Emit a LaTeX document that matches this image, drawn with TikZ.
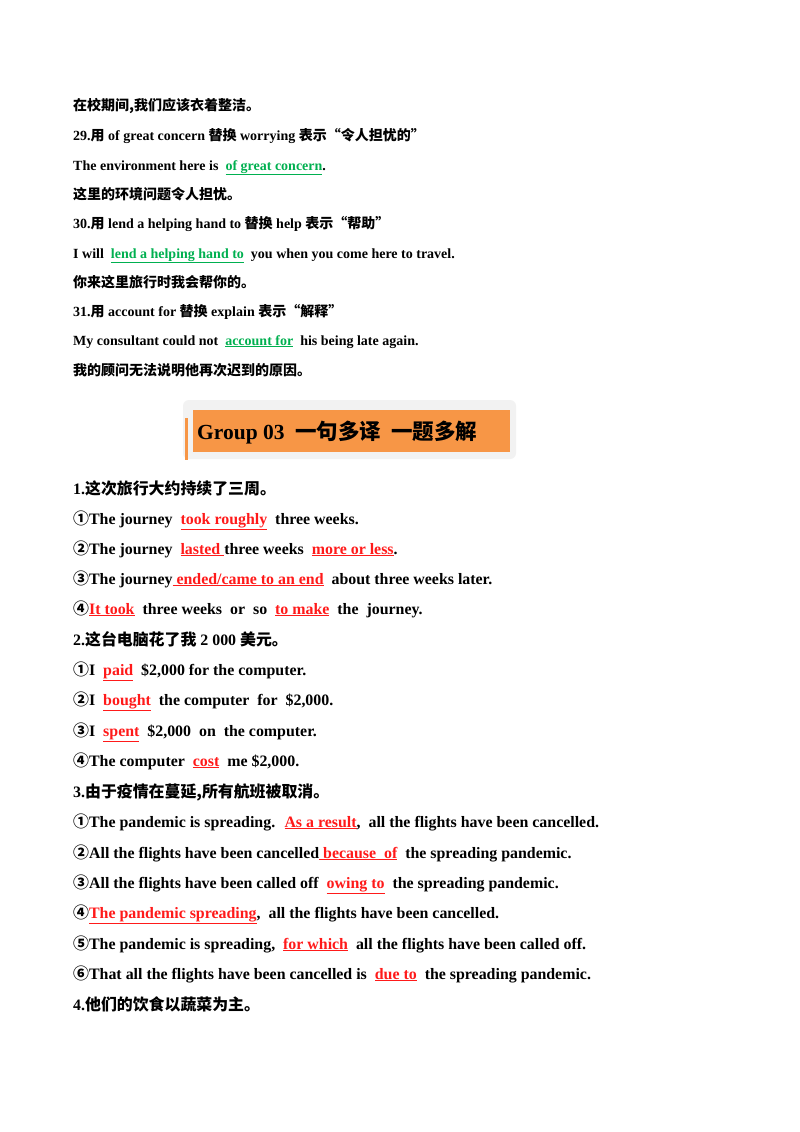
\documentclass[tikz,border=0pt]{standalone}
\usepackage{fontspec}
\setmainfont{Liberation Serif}[BoldFont={Liberation Serif Bold}]
\newfontfamily\cjk{Noto Sans CJK SC Bold}
\definecolor{ansred}{HTML}{FF1A1A}
\definecolor{ansgreen}{HTML}{00B050}
\definecolor{banner}{HTML}{F79646}
\newcommand\ar[1]{\textcolor{ansred}{\underline{#1}}}
\newcommand\ag[1]{\textcolor{ansgreen}{\underline{#1}}}
\newcommand\zh[1]{{\cjk #1}}
\tikzset{
  s/.style={anchor=base west,inner sep=0pt,font=\fontsize{14}{16}\selectfont\bfseries},
  b/.style={anchor=base west,inner sep=0pt,font=\fontsize{15.9}{18}\selectfont\bfseries}
}
\begin{document}
\begin{tikzpicture}[x=1pt,y=-1pt]
\useasboundingbox[fill=white] (0,0) rectangle (800,1132);
\node[s] (l1) at (73,110) {\zh{在校期间,我们应该衣着整洁。}};
\node[s] (l2) at (73,140) {29.\zh{用} of great concern \zh{替换} worrying \zh{表示“令人担忧的”}};
\node[s] (l3) at (73,170) {The environment here is \ \ag{of great concern}.};
\node[s] (l4) at (73,199) {\zh{这里的环境问题令人担忧。}};
\node[s] (l5) at (73,228) {30.\zh{用} lend a helping hand to \zh{替换} help \zh{表示“帮助”}};
\node[s] (l6) at (73,258) {I will \ \ag{lend a helping hand to} \ you when you come here to travel.};
\node[s] (l7) at (73,287) {\zh{你来这里旅行时我会帮你的。}};
\node[s] (l8) at (73,316) {31.\zh{用} account for \zh{替换} explain \zh{表示“解释”}};
\node[s] (l9) at (73,345) {My consultant could not \ \ag{account for} \ his being late again.};
\node[s] (l10) at (73,375) {\zh{我的顾问无法说明他再次迟到的原因。}};
% banner
\draw[rounded corners=6pt,fill=black!5,draw=none] (183,400) rectangle (516,459);
\fill[banner] (193,410) rectangle (510,452);
\fill[banner] (185,418) rectangle (188,460);
\node[anchor=base west,inner sep=0pt,font=\fontsize{21.5}{24}\selectfont\bfseries] (ban) at (197,439) {Group 03 \ \zh{一句多译\ \ 一题多解}};
\node[b] (h1) at (73,494) {1.\zh{这次旅行大约持续了三周。}};
\node[b] (a1) at (73,524) {\zh{①}The journey \ \ar{took roughly} \ three weeks.};
\node[b] (a2) at (73,554) {\zh{②}The journey \ \ar{lasted\ }three weeks \ \ar{more or less}.};
\node[b] (a3) at (73,584) {\zh{③}The journey\ar{\ ended/came to an end} \ about three weeks later.};
\node[b] (a4) at (73,614) {\zh{④}\ar{It took} \ three weeks \ or \ so \ \ar{to make} \ the \ journey.};
\node[b] (h2) at (73,645) {2.\zh{这台电脑花了我} 2 000 \zh{美元。}};
\node[b] (b1) at (73,675) {\zh{①}I \ \ar{paid} \ \$2,000 for the computer.};
\node[b] (b2) at (73,705) {\zh{②}I \ \ar{bought} \ the computer \ for \ \$2,000.};
\node[b] (b3) at (73,736) {\zh{③}I \ \ar{spent} \ \$2,000 \ on \ the computer.};
\node[b] (b4) at (73,766) {\zh{④}The computer \ \ar{cost} \ me \$2,000.};
\node[b] (h3) at (73,797) {3.\zh{由于疫情在蔓延,所有航班被取消。}};
\node[b] (c1) at (73,827) {\zh{①}The pandemic is spreading. \ \ar{As a result}, \ all the flights have been cancelled.};
\node[b] (c2) at (73,858) {\zh{②}All the flights have been cancelled\ar{\ because \ of} \ the spreading pandemic.};
\node[b] (c3) at (73,888) {\zh{③}All the flights have been called off \ \ar{owing to} \ the spreading pandemic.};
\node[b] (c4) at (73,918) {\zh{④}\ar{The pandemic spreading}, \ all the flights have been cancelled.};
\node[b] (c5) at (73,949) {\zh{⑤}The pandemic is spreading, \ \ar{for which} \ all the flights have been called off.};
\node[b] (c6) at (73,979) {\zh{⑥}That all the flights have been cancelled is \ \ar{due to} \ the spreading pandemic.};
\node[b] (h4) at (73,1010) {4.\zh{他们的饮食以蔬菜为主。}};
\end{tikzpicture}
\end{document}
